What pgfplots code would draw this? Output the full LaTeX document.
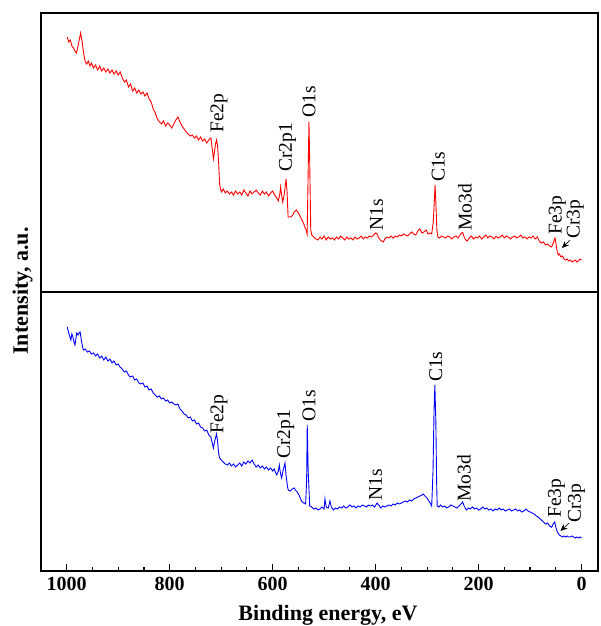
\documentclass[border=0pt]{standalone}
\usepackage{pgfplots}
\pgfplotsset{compat=1.18}
\usepackage{fontspec}
\setmainfont{Liberation Serif}
\usetikzlibrary{arrows.meta}
\tikzset{peak/.style={font=\fontsize{19.5}{21}\selectfont, rotate=90, anchor=west, inner sep=0pt}}

\pgfplotstableread{
x y
999 255
996 250
993 252
990 246
987 244
984 241
981 239
978 246
975 254
973 259
970 250
967 238
964 230
961 228
958 231
955 226
952 229
948 224
944 227
940 222
936 226
932 221
928 224
924 220
920 223
916 219
912 222
908 218
904 221
900 217
896 220
892 214
888 210
884 212
880 205
876 208
872 201
868 204
864 199
860 202
856 198
852 200
848 196
844 199
840 193
836 190
832 183
828 179
824 173
820 170
816 168
812 171
808 166
804 169
800 167
796 164
792 168
788 172
784 175
780 170
776 166
772 163
768 160
764 158
760 156
756 157
752 154
748 156
744 152
740 155
736 151
732 153
728 149
724 152
720 154
717 142
715 133
713 140
711 148
709 152
707 146
705 130
703 108
701 102
699 100
696 103
692 99
688 101
684 98
680 100
676 97
672 101
668 98
664 100
660 97
656 102
652 99
648 96
644 101
640 98
636 100
632 102
628 99
624 97
620 101
616 98
612 100
608 96
604 99
600 101
596 97
592 94
589 91
586 98
584.5 105
582 95
580.5 90
578 96
576 104
574 113
572 100
570 75
566 75
562 76
558 80
554 82
550 79
546 75
542 71
538 66
535 62
533 58
531 120
529.5 170
528 130
526 62
524 57
520 55
516 53
512 52
508 55
504 53
500 56
496 52
492 55
488 53
484 54
480 52
476 55
472 53
468 56
464 54
460 52
456 55
452 53
448 54
444 52
440 55
436 53
432 54
428 56
424 53
420 55
416 54
412 56
408 55
404 57
400 59
397 58
394 54
391 52
388 51
385 50
382 53
378 55
374 54
370 56
366 54
362 56
358 55
354 57
350 56
346 58
342 57
338 56
334 58
330 60
326 58
322 57
318 61
314 63
310 59
306 60
302 62
298 58
294 59
291 58
288 70
286 90
284.5 107
283 90
281 62
279 55
276 54
272 56
268 55
264 54
260 56
256 55
252 53
248 55
244 56
240 54
236 57
233 59
231 59.5
228 55
225 52
222 51
218 54
214 56
210 53
206 55
202 54
198 56
194 53
190 55
186 57
182 54
178 56
174 55
170 53
166 56
162 54
158 55
154 57
150 54
146 56
142 55
138 53
134 55
130 56
126 54
122 55
118 57
114 54
110 55
106 53
102 55
98 54
94 56
90 53
86 55
82 51
78 49
74 50
70 47
66 48
62 46
58 45
55 49
53 52
51.5 54
49 46
47 40
45 37
43 38
40 35
37 36
34 33
31 32
28 33
25 31
22 32
18 30
15 31
12 32
9 30
6 31
3 33
0 32
}\redtable

\pgfplotstableread{
x y
999 244
997 240
995 236
992 231
990 237
988 234
986 229
984 226
982 233
980.6 238
978 236
976 238
974 239
972 232
970 226
967.7 221
964 222
960 219
956 220
952 217
948 218
944 215
940 217
936 213
932 215
928 211
924 214
920 210
916 212
912 208
908 210
904 206
900 207
896.5 204
892 202
888 199
884 200
880 196
877 194
872 195
868 191
864 192
860 188
856 187
852 188
848 184
844 185
840 181
836 182
832 178
828 176
824 174
820 175
816 172
812 173
808 170
804 171
800 168
796 169
792 167
788 166
784 167
780 162
776 160
772 157
768 156
764 153
760 154
756 150
752 151
748 147
744 148
740 144
736 143
732 140
728 141
724 136
720 134
717 127
715 123
713 129
711 133
709 137
707 130
705 118
703 113
700 111
696 109
692 107
688 106
684 108
680 105
676 107
672 104
668 106
664 108
660 105
656 109
652 107
648 110
644 108
640 111
636 107
632 104
628 106
624 103
620 105
616 102
612 104
608 101
604 103
600 100
597 102
594 98
592 96
589 100
587 106
585 98
582.5 93
580 100
578 104
576 108
574 96
571 84
569.7 81
566 80
562 82
558 83
556 81
552 79
548 75
544 70
540 68
536 67
534 90
532.8 146
531 100
528 65
524 64
520 62
516 63
512 61
508 62
504 64
500 62
498.4 72
496 64
492 63
488.7 70
486 64
482 61
478 63
474 62
470 64
466 63
462 65
458 63
454 64
450 66
446 64
442 65
438 63
434 65
430 64
426 66
422 65
418 64
414 66
410 65
406 66
402 64
397 68
394 66
390 63
386 65
382 64
378.6 65
374 66
370 65
366 67
362 66
358 68
354 67
350 68
346 69
342 70
338 69
334 71
330 70
326 72
322 73
318 74
314 75
310 76
307.6 77
304 75
300 73
297.9 71
294 68
291 65
288.5 100
286.5 160
284.9 186
283 150
281.5 90
280.4 65
277 64
274 66
270 64
266 65
262 63
258 64
254 66
250 65
246 64
242 63
238 65
234 67
231 69
228 65
225 62
223 61
220 63
216 62
212 64
208 62
204 63
200 61
196 62
192 64
188 62
184 63
180 61
176 62
172 60
168 62
164 61
160 63
156 61
152 62
148 60
144 61
140 62
136 60
132 61
128 62
124 60
120 61
116 59
112 60
108 62
104 60
100 59
96 58
92 57
88 55
84 54
80 52
76 50
72 48
69 47
66 48
62 45
58 43.7
55 47
52 49
50 44
47 39
45.4 37.7
43 36
40 35
37 34
34 35
31 34
28 35
25 34
22 34
18 35
15 34
12 33
9 34
6 33
3 34
0 33
}\bluetable

\begin{document}
\begin{tikzpicture}
\useasboundingbox (-41pt,-55pt) rectangle (559pt,571pt);
\pgfplotsset{
  every axis/.append style={
    width=557pt, height=279pt, scale only axis,
    xmin=-32, xmax=1050, x dir=reverse,
    ymin=0, ymax=279, ytick=\empty,
    axis line style={line width=1.3pt},
    clip=true,
  },
}
% bottom panel (blue)
\begin{axis}[
  at={(0,0)}, anchor=south west,
  xtick={0,200,400,600,800,1000},
  minor x tick num=3,
  xtick pos=bottom,
  tick align=inside,
  major tick length=7pt, minor tick length=4pt,
  tick style={line width=1.1pt, black},
  ticklabel style={font=\fontsize{20}{22}\selectfont\bfseries},
  /pgf/number format/assume math mode=true,
  /pgf/number format/1000 sep={},
  xticklabel shift=3pt,
]
\addplot[blue, line width=0.9pt] table[x=x,y=y] {\bluetable};
\node[peak] at (axis cs:704,137) {Fe2p};
\node[peak] at (axis cs:574.6,112) {Cr2p1};
\node[peak] at (axis cs:529.5,149) {O1s};
\node[peak] at (axis cs:400,70) {N1s};
\node[peak] at (axis cs:283,189) {C1s};
\node[peak] at (axis cs:228.5,69) {Mo3d};
\node[peak] at (axis cs:48.5,53) {Fe3p};
\node[peak] at (axis cs:10,48) {Cr3p};
\draw[-{Stealth[length=7pt,width=6pt]}, line width=0.6pt] (axis cs:24,48) -- (axis cs:41,40);
\end{axis}
% top panel (red)
\begin{axis}[
  at={(0,279pt)}, anchor=south west,
  xtick=\empty,
]
\addplot[red, line width=0.9pt] table[x=x,y=y] {\redtable};
\node[peak] at (axis cs:704,159) {Fe2p};
\node[peak] at (axis cs:571,120) {Cr2p1};
\node[peak] at (axis cs:529.5,174) {O1s};
\node[peak] at (axis cs:398,61) {N1s};
\node[peak] at (axis cs:278.4,110) {C1s};
\node[peak] at (axis cs:226.6,61) {Mo3d};
\node[peak] at (axis cs:47,57) {Fe3p};
\node[peak] at (axis cs:12,53) {Cr3p};
\draw[-{Stealth[length=7pt,width=6pt]}, line width=0.6pt] (axis cs:22,52) -- (axis cs:38,44);
\end{axis}
\node[rotate=90, font=\fontsize{22}{24}\selectfont\bfseries] at (-18.5pt,280pt) {Intensity, a.u.};
\node[anchor=base, font=\fontsize{22}{24}\selectfont\bfseries] at (287pt,-49pt) {Binding energy, eV};
\end{tikzpicture}
\end{document}
